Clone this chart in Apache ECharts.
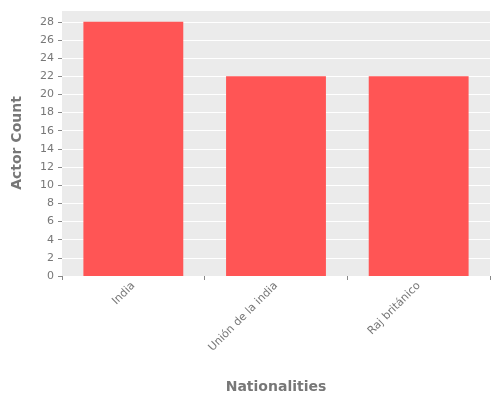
<!DOCTYPE html>
<html>
<head>
<meta charset="utf-8">
<script src="https://cdn.jsdelivr.net/npm/echarts@6/dist/echarts.min.js"></script>
<style>html,body{margin:0;padding:0;background:#fff}#chart{width:500px;height:400px}</style>
</head>
<body>
<div id="chart"></div>
<script>
var categories = ["India", "Unión de la india", "Raj británico"];
var actorCounts = [28, 22, 22];

var chart = echarts.init(document.getElementById("chart"));
chart.setOption({
    animation: false,
    textStyle: {fontFamily: "DejaVu Sans"},
    grid: {left: 62, right: 10, top: 10, bottom: 124, backgroundColor: "#EBEBEB", show: true, borderWidth: 0},
    xAxis: {
        type: "category",
        data: categories,
        name: "Nationalities",
        nameLocation: "middle",
        nameGap: 104,
        nameTextStyle: {color: "#777", fontSize: 14, fontWeight: "bold"},
        axisLine: {show: false},
        axisTick: {show: true, lineStyle: {color: "#888"}, length: 4},
        axisLabel: {rotate: 45, color: "#777", fontSize: 11, margin: 8}
    },
    yAxis: {
        type: "value",
        min: 0,
        max: 29.3,
        interval: 2,
        name: "Actor Count",
        nameLocation: "middle",
        nameGap: 38,
        nameTextStyle: {color: "#777", fontSize: 14, fontWeight: "bold"},
        axisLine: {show: false},
        axisTick: {show: true, lineStyle: {color: "#888"}, length: 4},
        axisLabel: {color: "#777", fontSize: 11, showMaxLabel: false},
        splitLine: {lineStyle: {color: "#fff", width: 1}}
    },
    series: [{
        type: "bar",
        data: actorCounts,
        barCategoryGap: "30%",
        itemStyle: {color: "#FF5555"}
    }]
});
</script>
</body>
</html>
